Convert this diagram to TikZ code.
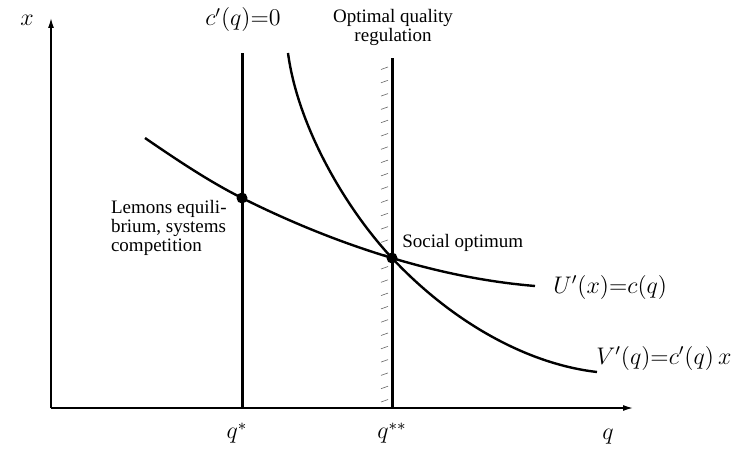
\documentclass[tikz,border=0pt]{standalone}
\usepackage{amsmath}
\usepackage{fontspec}
\setmainfont{Liberation Serif}
\usetikzlibrary{calc,positioning,arrows.meta}

\begin{document}
\begin{tikzpicture}[x=0.5pt,y=0.5pt,>=Latex,
  axis/.style={line width=0.7pt,-{Latex[length=5pt,width=3pt]}},
  curve/.style={line width=1.2pt},
  wall/.style={line width=1.5pt},
  hatch/.style={line width=0.3pt,black!60},
  eqdot/.style={circle,fill,inner sep=0pt,minimum size=5.5pt},
  lbl/.style={font=\fontsize{9.5}{9.5}\selectfont,inner sep=0pt},
  mlbl/.style={font=\fontsize{11.5}{13}\selectfont}]
  \useasboundingbox (-51,-43) rectangle (683,408);
  \coordinate (O) at (0,0);
  \coordinate (xend) at (582,0);
  \coordinate (yend) at (0,390);
  \draw[axis] (O) -- (xend);
  \draw[axis] (O) -- (yend);
  \node[mlbl] (xlab) at (-24,388) {$x$};
  \node[mlbl] (qlab) at (557,-29) {$q$};
  % the two vertical lines
  \coordinate (qs) at (191,0);
  \coordinate (qsTop) at (191,355);
  \coordinate (qss) at (341,0);
  \coordinate (qssTop) at (341,350);
  \draw[wall] (qs) -- (qsTop);
  \draw[wall] (qss) -- (qssTop);
  \foreach \k in {0,...,25}
    \draw[hatch] ($(qss)+(-11,6+13.3*\k)$) -- ++(7,2.5);
  % curves
  \draw[curve] (94,270) .. controls (126,248) and (159,226) .. (191,210)
    .. controls (241,185) and (291,165) .. (341,150)
    .. controls (389,135.6) and (436,126) .. (484,122);
  \draw[curve] (237,355) .. controls (247,280) and (296,198) .. (341,150)
    .. controls (401,86) and (476,44) .. (546,36);
  \node[eqdot] (lemons) at (191,210) {};
  \node[eqdot] (social) at (341,150) {};
  % labels
  \node[mlbl] (cprime) at (192,388) {$c'(q){=}0$};
  \node[lbl,align=center] (optreg) at (342,381) {Optimal quality\\regulation};
  \node[lbl,align=left,anchor=east] (lemlab) at (176,180) {Lemons equili-\\brium, systems\\competition};
  \node[lbl,anchor=west] (soclab) at (351,165) {Social optimum};
  \node[mlbl,inner sep=0pt,anchor=west] (ulab) at (502,121) {$U'(x){=}c(q)$};
  \node[mlbl,inner sep=0pt,anchor=west] (vlab) at (545,50) {$V'(q){=}c'(q)\,x$};
  \node[mlbl] (qslab) at (186,-25) {$q^{*}$};
  \node[mlbl] (qsslab) at (341,-25) {$q^{**}$};
\end{tikzpicture}
\end{document}
